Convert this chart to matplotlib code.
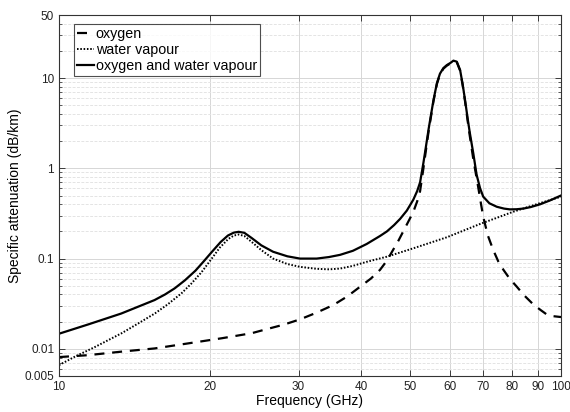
import matplotlib
matplotlib.use("Agg")
import matplotlib.pyplot as plt
from matplotlib.ticker import FixedLocator, FixedFormatter, LogLocator, NullFormatter

plt.rcParams['font.family'] = ['Liberation Sans', 'DejaVu Sans']

# Oxygen (dashed)
f_oxy = [10, 11.4, 13.3, 15.5, 18.1, 21.1, 24.2, 25.9, 28.0, 30.2, 32.5, 35.2, 37.5, 39.8, 41.8,
         43.6, 45.0, 46.3, 47.5, 48.5, 49.7, 50.8, 51.7, 52.4, 53.2, 53.6, 54.5, 55.7, 56.6, 57.4,
         58.3, 59.2, 60.3, 61.05, 62.0, 62.95, 63.7, 64.4, 65.2, 65.8, 66.9, 67.6, 68.4, 69.2, 70.0,
         71.5, 73.3, 75.0, 76.8, 79.0, 81.6, 84.5, 88.1, 91.0, 93.7, 96.5, 100]
v_oxy = [0.0081, 0.0085, 0.0093, 0.0101, 0.0115, 0.0131, 0.0149, 0.0165, 0.0185, 0.0212, 0.0250, 0.0306, 0.0380, 0.0488, 0.060,
         0.075, 0.095, 0.125, 0.160, 0.200, 0.260, 0.330, 0.430, 0.56, 1.00, 1.35, 2.6, 5.5, 8.6, 11.0,
         12.7, 13.7, 14.6, 15.4, 15.0, 12.1, 8.3, 5.5, 3.3, 2.3, 1.25, 0.90, 0.62, 0.42, 0.29,
         0.18, 0.124, 0.093, 0.075, 0.060, 0.049, 0.039, 0.031, 0.027, 0.0240, 0.0230, 0.0225]

# Water vapour (dotted)
f_wv = [10, 10.76, 11.8, 13.33, 14.4, 15.53, 16.49, 17.56, 18.33, 19.24, 20.15, 20.9, 21.74, 22.3, 22.8,
        23.4, 24.2, 25.3, 26.7, 28.5, 30.2, 32.6, 34.5, 36.3, 38.5, 41.0, 45.0, 50.8, 59.2, 69.0,
        80.3, 90.0, 100]
v_wv = [0.0066, 0.0082, 0.0105, 0.0149, 0.0192, 0.0247, 0.0313, 0.0415, 0.0525, 0.071, 0.100, 0.132, 0.165, 0.180, 0.185,
        0.178, 0.153, 0.124, 0.100, 0.087, 0.081, 0.077, 0.076, 0.0775, 0.083, 0.092, 0.105, 0.130, 0.172, 0.242,
        0.330, 0.405, 0.485]

# Oxygen and water vapour (solid)
f_tot = [10, 11.42, 13.3, 15.5, 16.26, 17.0, 17.82, 18.7, 19.35, 20.2, 21.0, 21.7, 22.3, 22.8, 23.4,
         24.2, 25.3, 26.7, 28.5, 30.2, 32.6, 34.5, 36.3, 38.5, 41.0, 43.6, 45.0, 46.5, 47.8, 49.3,
         50.8, 51.7, 52.4, 53.2, 53.6, 54.5, 55.7, 56.6, 57.4, 58.3, 59.2, 60.3, 61.05, 62.0, 62.95,
         63.7, 64.4, 65.2, 65.8, 66.9, 67.9, 69.0, 70.0, 72.0, 74.5, 77.0, 79.1, 81.5, 84.1, 87.0,
         90.8, 95.0, 100]
v_tot = [0.0147, 0.0186, 0.0246, 0.0347, 0.0400, 0.0468, 0.0575, 0.0735, 0.091, 0.120, 0.153, 0.180, 0.194, 0.198, 0.193,
         0.169, 0.140, 0.119, 0.106, 0.100, 0.100, 0.104, 0.110, 0.122, 0.145, 0.178, 0.200, 0.235, 0.275, 0.340,
         0.450, 0.560, 0.70, 1.15, 1.50, 2.75, 5.65, 8.8, 11.2, 12.9, 13.9, 14.8, 15.6, 15.2, 12.3,
         8.5, 5.7, 3.5, 2.5, 1.45, 0.85, 0.60, 0.485, 0.41, 0.375, 0.358, 0.351, 0.352, 0.358, 0.372,
         0.399, 0.44, 0.50]

x_ticks = [10, 20, 30, 40, 50, 60, 70, 80, 90, 100]
x_labels = ['10', '20', '30', '40', '50', '60', '70', '80', '90', '100']
y_ticks = [0.005, 0.01, 0.1, 1, 10, 50]
y_labels = ['0.005', '0.01', '0.1', '1', '10', '50']

fig = plt.figure(figsize=(5.7, 4.12), dpi=100)
ax = fig.add_axes([59/570, 36/412, 502/570, 361/412])

ax.plot(f_oxy, v_oxy, color='black', lw=1.6, linestyle=(0, (4.5, 3.5)), label='oxygen')
ax.plot(f_wv, v_wv, color='black', lw=1.4, linestyle=(0, (0.8, 0.9)), label='water vapour')
ax.plot(f_tot, v_tot, color='black', lw=1.6, label='oxygen and water vapour')

ax.set_xscale('log')
ax.set_yscale('log')
ax.set_xlim(10, 100)
ax.set_ylim(0.005, 50)

ax.xaxis.set_major_locator(FixedLocator(x_ticks))
ax.xaxis.set_major_formatter(FixedFormatter(x_labels))
ax.xaxis.set_minor_locator(FixedLocator([]))
ax.yaxis.set_major_locator(FixedLocator(y_ticks))
ax.yaxis.set_major_formatter(FixedFormatter(y_labels))
ax.yaxis.set_minor_locator(LogLocator(base=10, subs=[2, 3, 4, 5, 6, 7, 8, 9]))
ax.yaxis.set_minor_formatter(NullFormatter())

ax.grid(True, which='major', axis='both', color='#d6d6d6', lw=0.7)
ax.grid(True, which='minor', axis='y', color='#e4e4e4', lw=0.7, linestyle=(0, (3, 1.5)))

ax.tick_params(which='both', direction='in', top=True, right=True, labelsize=8.5, colors='#222222')
ax.tick_params(which='major', length=4, width=0.6)
ax.tick_params(which='minor', length=2.5, width=0.5)
for s in ax.spines.values():
    s.set_color('#333333')
    s.set_linewidth(0.8)

ax.set_xlabel('Frequency (GHz)', fontsize=10, labelpad=1)
ax.set_ylabel('Specific attenuation (dB/km)', fontsize=10, labelpad=2)

leg = ax.legend(loc='upper left', bbox_to_anchor=(0.03, 0.975), fontsize=10.3, frameon=True,
                fancybox=False, edgecolor='#222222', handlelength=1.2, handletextpad=0.1,
                borderpad=0.2, labelspacing=0.15, borderaxespad=0)
leg.get_frame().set_linewidth(0.8)

fig.savefig('out.png', dpi=100)
